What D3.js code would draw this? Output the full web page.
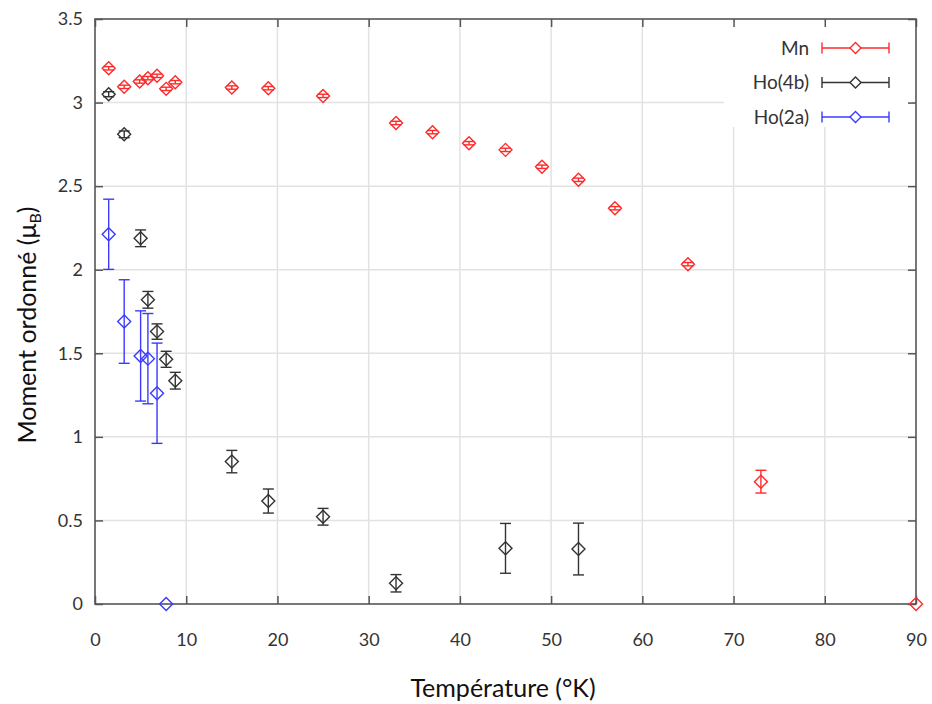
<!DOCTYPE html>
<html><head><meta charset="utf-8">
<script src="https://cdn.jsdelivr.net/npm/d3@7"></script>
<style>body{margin:0;background:#fff;}svg{display:block;font-family:Lato,"Open Sans",sans-serif;}</style>
</head><body><svg id="c" width="932" height="704"></svg>
<script>
// Data
const mnT   = [1.5, 3.2, 4.9, 5.8, 6.8, 7.8, 8.8, 15, 19, 25, 33, 37, 41, 45, 49, 53, 57, 65, 73, 90];
const mnV   = [3.205, 3.094, 3.126, 3.146, 3.16, 3.082, 3.122, 3.09, 3.086, 3.04, 2.878, 2.823, 2.757, 2.717, 2.616, 2.538, 2.368, 2.033, 0.732, 0];
const mnE   = [0.01, 0.01, 0.01, 0.01, 0.01, 0.01, 0.01, 0.01, 0.01, 0.01, 0.01, 0.01, 0.01, 0.01, 0.01, 0.01, 0.01, 0.01, 0.068, 0];
const ho4bT = [1.5, 3.2, 5, 5.8, 6.8, 7.8, 8.8, 15, 19, 25, 33, 45, 53];
const ho4bV = [3.05, 2.81, 2.188, 1.82, 1.63, 1.464, 1.336, 0.852, 0.616, 0.522, 0.124, 0.333, 0.329];
const ho4bE = [0.015, 0.02, 0.05, 0.05, 0.046, 0.048, 0.05, 0.067, 0.072, 0.05, 0.052, 0.149, 0.155];
const ho2aT = [1.5, 3.2, 5, 5.8, 6.8, 7.8];
const ho2aV = [2.212, 1.69, 1.484, 1.468, 1.261, 0];
const ho2aE = [0.21, 0.25, 0.27, 0.27, 0.30, 0];
const xTicks = [0,10,20,30,40,50,60,70,80,90];
const yTicks = [0,0.5,1,1.5,2,2.5,3,3.5];
const seriesNames = ["Mn", "Ho(4b)", "Ho(2a)"];
const seriesColors = ["#ff2a2a", "#333333", "#3a3aff"];

const svg = d3.select("#c");
const L = 95, R = 916, T = 19, B = 604;
const x = d3.scaleLinear().domain([0,90]).range([L,R]);
const y = d3.scaleLinear().domain([0,3.5]).range([B,T]);

// grid
const g = svg.append("g");
g.selectAll(".gx").data(xTicks.slice(1,-1)).join("line")
  .attr("x1",d=>x(d)).attr("x2",d=>x(d)).attr("y1",T).attr("y2",B)
  .attr("stroke","#e2e2e2").attr("stroke-width",1.5);
g.selectAll(".gy").data(yTicks.slice(1,-1)).join("line")
  .attr("y1",d=>y(d)).attr("y2",d=>y(d)).attr("x1",L).attr("x2",R)
  .attr("stroke","#e2e2e2").attr("stroke-width",1.5);

// legend box (opaque)
svg.append("rect").attr("x",724).attr("y",21).attr("width",188).attr("height",106).attr("fill","#fff");

// axes with inward ticks
const tickStyle = sel => { sel.select(".domain").remove(); sel.selectAll("line").attr("stroke","#555").attr("stroke-width",1.5); };
svg.append("g").attr("transform",`translate(0,${B})`)
  .call(d3.axisBottom(x).tickValues(xTicks).tickSize(-8).tickPadding(29).tickFormat(d3.format("d")))
  .call(tickStyle).call(s=>s.selectAll("text").attr("font-size",18).attr("fill","#333").attr("font-family","Lato"));
svg.append("g").attr("transform",`translate(0,${T})`)
  .call(d3.axisTop(x).tickValues(xTicks).tickSize(-8).tickFormat(""))
  .call(tickStyle);
svg.append("g").attr("transform",`translate(${L},0)`)
  .call(d3.axisLeft(y).tickValues(yTicks).tickSize(-8).tickPadding(12).tickFormat(d=>d))
  .call(tickStyle).call(s=>s.selectAll("text").attr("font-size",18).attr("fill","#333").attr("font-family","Lato"));
svg.append("g").attr("transform",`translate(${R},0)`)
  .call(d3.axisRight(y).tickValues(yTicks).tickSize(-8).tickFormat(""))
  .call(tickStyle);

// border
svg.append("rect").attr("x",L).attr("y",T).attr("width",R-L).attr("height",B-T)
  .attr("fill","none").attr("stroke","#555").attr("stroke-width",1.6);

// series
const diamond = (cx,cy,s) => `M${cx-s},${cy}L${cx},${cy-s}L${cx+s},${cy}L${cx},${cy+s}Z`;
function drawSeries(Ts, Vs, Es, color){
  const data = Ts.map((t,i)=>({t, v:Vs[i], e:Es[i]}));
  const gg = svg.append("g").attr("stroke",color).attr("fill","none").attr("stroke-width",1.4);
  const eb = data.filter(d=>d.e>0);
  gg.selectAll(".ev").data(eb).join("line")
    .attr("x1",d=>x(d.t)).attr("x2",d=>x(d.t)).attr("y1",d=>y(d.v+d.e)).attr("y2",d=>y(d.v-d.e));
  gg.selectAll(".ct").data(eb).join("line")
    .attr("x1",d=>x(d.t)-5.5).attr("x2",d=>x(d.t)+5.5).attr("y1",d=>y(d.v+d.e)).attr("y2",d=>y(d.v+d.e));
  gg.selectAll(".cb").data(eb).join("line")
    .attr("x1",d=>x(d.t)-5.5).attr("x2",d=>x(d.t)+5.5).attr("y1",d=>y(d.v-d.e)).attr("y2",d=>y(d.v-d.e));
  gg.selectAll(".pt").data(data).join("path")
    .attr("d",d=>diamond(x(d.t),y(d.v),6.5));
}
drawSeries(ho2aT, ho2aV, ho2aE, seriesColors[2]);
drawSeries(ho4bT, ho4bV, ho4bE, seriesColors[1]);
drawSeries(mnT, mnV, mnE, seriesColors[0]);

// legend
seriesNames.forEach((name,i)=>{
  const ly = 48 + i*34.5;
  svg.append("text").attr("x",809).attr("y",ly).attr("dy","0.35em").attr("text-anchor","end")
    .attr("font-size",19).attr("fill","#333").text(name);
  const lg = svg.append("g").attr("stroke",seriesColors[i]).attr("fill","none").attr("stroke-width",1.4);
  lg.append("line").attr("x1",822).attr("x2",889).attr("y1",ly).attr("y2",ly);
  lg.append("line").attr("x1",822).attr("x2",822).attr("y1",ly-5.5).attr("y2",ly+5.5);
  lg.append("line").attr("x1",889).attr("x2",889).attr("y1",ly-5.5).attr("y2",ly+5.5);
  lg.append("path").attr("d",diamond(855.5,ly,5.5)).attr("fill","#fff");
});

// axis titles
svg.append("text").attr("x",503).attr("y",697).attr("text-anchor","middle")
  .attr("font-size",25).attr("fill","#111").text("Température (°K)");
const yt = svg.append("text").attr("transform","translate(36,325) rotate(-90)").attr("text-anchor","middle")
  .attr("font-size",25).attr("fill","#111");
yt.append("tspan").text("Moment ordonné (μ");
yt.append("tspan").attr("font-size",16).attr("dy",5).text("B");
yt.append("tspan").attr("dy",-5).text(")");
</script></body></html>
